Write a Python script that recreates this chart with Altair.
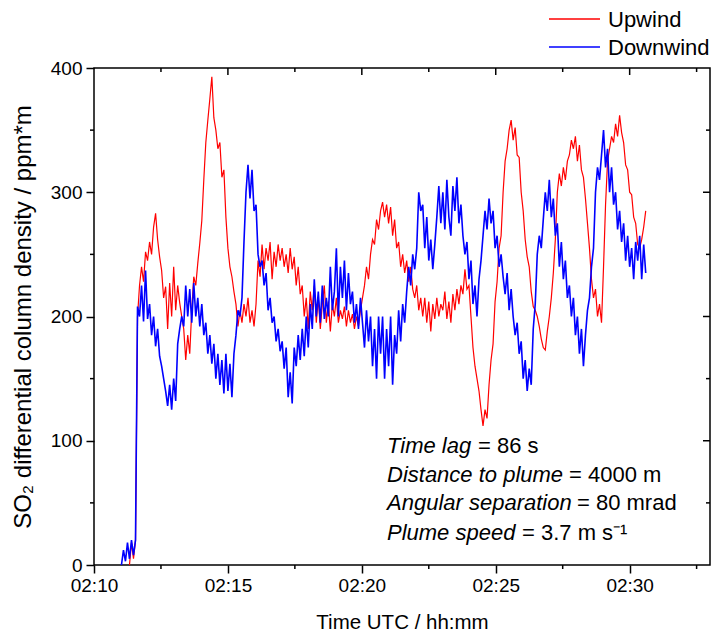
import altair as alt
import pandas as pd

# ---- data (values in ppm*m) ----
SERIES = ["Upwind", "Downwind"]
COLORS = ["#ff0000", "#0000ff"]
WIDTHS = [1.2, 1.6]
START_S = 661.5   # seconds after 02:00 of first sample
STEP_S = 4.5      # sampling step in seconds

UPWIND = [
    None, None, None, None, 0, 18, 5, 20, 200, 225,
    240, 228, 252, 245, 260, 250, 272, 283, 262, 248,
    237, 215, 224, 190, 227, 200, 240, 205, 225, 211,
    200, 190, 165, 185, 170, 205, 232, 225, 243, 259,
    277, 310, 340, 358, 375, 393, 360, 350, 335, 340,
    312, 318, 280, 255, 240, 232, 220, 210, 192, 205,
    195, 210, 200, 215, 195, 205, 192, 210, 245, 232,
    258, 238, 255, 245, 260, 230, 252, 240, 258, 245,
    255, 240, 250, 235, 255, 238, 248, 225, 240, 218,
    225, 200, 215, 190, 220, 205, 225, 195, 215, 190,
    210, 225, 195, 212, 188, 210, 200, 215, 195, 205,
    198, 208, 192, 205, 195, 202, 190, 200, 192, 205,
    215, 225, 240, 230, 250, 262, 258, 278, 270, 285,
    292, 280, 290, 275, 288, 265, 278, 255, 260, 240,
    250, 235, 245, 228, 240, 222, 215, 225, 205, 215,
    200, 215, 195, 212, 188, 210, 198, 215, 200, 210,
    205, 220, 198, 212, 195, 218, 205, 222, 210, 225,
    218, 238, 222, 225, 200, 175, 160, 150, 140, 125,
    112, 125, 118, 145, 165, 178, 212, 228, 255, 265,
    300, 325, 335, 350, 358, 342, 352, 330, 328, 300,
    285, 262, 248, 240, 220, 208, 205, 200, 192, 182,
    175, 173, 188, 200, 215, 235, 262, 300, 315, 305,
    320, 310, 325, 330, 342, 335, 345, 325, 338, 318,
    312, 295, 275, 255, 230, 215, 222, 200, 210, 195,
    240, 290, 325, 335, 345, 340, 355, 345, 362, 348,
    340, 322, 318, 300, 298, 280, 275, 258, 255, 262, 272, 285,
]

DOWNWIND = [
    0, 12, 3, 18, 5, 20, 8, 20, 208, 200,
    225, 196, 237, 198, 210, 185, 200, 176, 190, 168,
    160, 150, 140, 128, 145, 125, 150, 132, 178, 190,
    200, 192, 225, 200, 222, 195, 227, 200, 215, 192,
    210, 185, 195, 170, 185, 162, 178, 150, 170, 145,
    165, 138, 170, 140, 162, 135, 170, 185, 205, 200,
    215, 260, 300, 322, 295, 318, 285, 290, 250, 240,
    245, 225, 235, 205, 215, 195, 200, 180, 190, 172,
    180, 158, 175, 135, 155, 130, 175, 160, 185, 165,
    190, 168, 200, 175, 210, 190, 230, 200, 220, 195,
    225, 198, 215, 200, 240, 205, 220, 255, 200, 240,
    215, 245, 205, 235, 210, 220, 195, 210, 190, 215,
    195, 175, 205, 180, 200, 160, 190, 150, 200, 170,
    200, 150, 190, 160, 200, 145, 185, 170, 205, 180,
    210, 195, 220, 240, 225, 250, 238, 255, 300, 285,
    290, 255, 280, 245, 262, 238, 258, 280, 305, 275,
    300, 270, 310, 280, 265, 305, 285, 312, 275, 290,
    265, 250, 260, 230, 245, 210, 225, 200, 230, 245,
    265, 285, 270, 295, 275, 285, 255, 265, 240, 250,
    232, 218, 235, 205, 222, 200, 185, 195, 170, 180,
    150, 165, 140, 158, 145, 190, 210, 250, 265, 255,
    278, 300, 285, 310, 280, 295, 265, 275, 240, 260,
    230, 245, 215, 225, 200, 215, 185, 200, 170, 190,
    160, 185, 205, 215, 240, 255, 300, 320, 310, 330,
    350, 320, 335, 300, 320, 290, 300, 270, 285, 260,
    275, 245, 265, 240, 255, 230, 260, 245, 265, 230, 258, 235,
]

X_TICKS = [10, 15, 20, 25, 30]
X_MINOR = [12.5, 17.5, 22.5, 27.5, 32.5]
Y_TICKS = [0, 100, 200, 300, 400]
Y_MINOR = [50, 150, 250, 350]

ANNOT_ITALIC = ["Time lag", "Distance to plume", "Angular separation", "Plume speed"]
ANNOT_NORMAL = ["= 86 s", "= 4000 m", "= 80 mrad", "= 3.7 m s\u207b\u00b9"]

FONT = "Liberation Sans"
W, H = 616, 497

def series_df(name, vals):
    rows = []
    for i, v in enumerate(vals):
        if v is None:
            continue
        rows.append({"series": name, "minute": (START_S + STEP_S * i) / 60.0, "value": v})
    return pd.DataFrame(rows)

X_SCALE = alt.Scale(domain=[10, 33], nice=False, zero=False)
Y_SCALE = alt.Scale(domain=[0, 400], nice=False, zero=False)

x_axis = alt.Axis(
    values=X_TICKS, labelExpr="'02:' + format(datum.value, '02d')",
    title="Time UTC / hh:mm", titleY=63, titleBaseline="alphabetic",
    tickSize=8, tickWidth=1.5, tickColor="black", domain=False, grid=False,
    labelPadding=3, labelFontSize=19, titleFontSize=20.5, labelFlush=False,
    labelFont=FONT, titleFont=FONT, labelColor="black", titleColor="black",
    titleFontWeight="normal",
)
y_axis = alt.Axis(
    values=Y_TICKS, title="SO\u2082 differential column density / ppm*m",
    titleX=-64, titleBaseline="alphabetic",
    tickSize=8, tickWidth=1.5, tickColor="black", domain=False, grid=False,
    labelPadding=4, labelFontSize=19, titleFontSize=24, labelFlush=False,
    labelFont=FONT, titleFont=FONT, labelColor="black", titleColor="black",
    titleFontWeight="normal",
)

layers = []
for name, vals, col, sw in zip(SERIES, [UPWIND, DOWNWIND], COLORS, WIDTHS):
    layers.append(
        alt.Chart(series_df(name, vals)).mark_line(color=col, strokeWidth=sw).encode(
            x=alt.X("minute:Q", scale=X_SCALE, axis=x_axis),
            y=alt.Y("value:Q", scale=Y_SCALE, axis=y_axis),
        )
    )

def xrules(vals, y1, y2):
    return alt.Chart(pd.DataFrame({"minute": vals})).mark_rule(color="black", strokeWidth=1.5).encode(
        x=alt.X("minute:Q", scale=X_SCALE, axis=x_axis), y=alt.value(y1), y2=alt.value(y2))

def yrules(vals, x1, x2):
    return alt.Chart(pd.DataFrame({"value": vals})).mark_rule(color="black", strokeWidth=1.5).encode(
        y=alt.Y("value:Q", scale=Y_SCALE, axis=y_axis), x=alt.value(x1), x2=alt.value(x2))

layers += [
    xrules(X_MINOR, H, H + 4),          # bottom minor ticks
    xrules(X_TICKS[1:], 0, 7),           # top major ticks (inward)
    xrules(X_MINOR, 0, 4),               # top minor ticks
    yrules(Y_MINOR, -4, 0),              # left minor ticks
    yrules(Y_TICKS[1:-1], W - 7, W),     # right major ticks (inward)
    yrules(Y_MINOR, W - 4, W),           # right minor ticks
]

one = alt.Data(values=[{"a": 1}])

def txt(s, x, y, italic=False, size=22, align="left"):
    kw = dict(font=FONT, fontSize=size, align=align, baseline="alphabetic", color="black")
    if italic:
        kw["fontStyle"] = "italic"
    return alt.Chart(one).mark_text(**kw).encode(x=alt.value(x), y=alt.value(y), text=alt.value(s))

base_y = [385, 414, 442, 472]
normal_x = [384, 475, 483, 428]
for it, nm, by, nx in zip(ANNOT_ITALIC, ANNOT_NORMAL, base_y, normal_x):
    layers.append(txt(it, 293, by, italic=True))
    layers.append(txt(nm, nx, by))

# legend
leg_y = [-49, -21]
for name, col, ly in zip(SERIES, COLORS, leg_y):
    layers.append(
        alt.Chart(one).mark_rule(color=col, strokeWidth=1.3).encode(
            x=alt.value(455), x2=alt.value(506), y=alt.value(ly))
    )
    layers.append(txt(name, 514, ly + 8))

chart = alt.layer(*layers).properties(
    width=W, height=H,
    padding={"left": 94, "top": 68, "right": 3, "bottom": 68},
    autosize=alt.AutoSizeParams(type="none"),
).configure(
    background="white"
).configure_view(
    stroke="black", strokeWidth=1.5
)

chart.save("out.html", embed_options={"renderer": "svg", "actions": False})
